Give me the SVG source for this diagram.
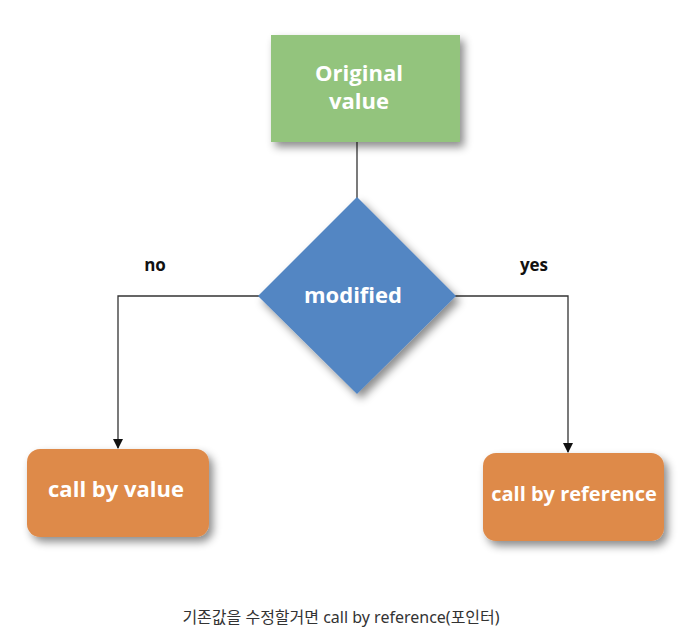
<svg xmlns="http://www.w3.org/2000/svg" width="684" height="641" viewBox="0 0 684 641">
<style>
.lbl{font-family:"Open Sans","Liberation Sans",sans-serif;font-weight:bold;fill:#fff;text-anchor:middle}
.edge{fill:none;stroke:#333;stroke-width:1.3}
.el{font-family:"Open Sans","Liberation Sans",sans-serif;font-weight:bold;fill:#111;font-size:17px;text-anchor:middle}
</style>
<defs>
<filter id="sh" x="-20%" y="-20%" width="150%" height="150%">
<feDropShadow dx="4" dy="5" stdDeviation="4" flood-color="#000" flood-opacity="0.45"/>
</filter>
<marker id="ar" markerWidth="10" markerHeight="10" refX="9" refY="5" orient="auto" markerUnits="userSpaceOnUse">
<path d="M0,0 L10,5 L0,10 Z" fill="#111"/>
</marker>
</defs>
<rect width="684" height="641" fill="#fff"/>
<g id="connectors">
<line class="edge" x1="357" y1="142" x2="357" y2="198"/>
<polyline class="edge" points="259,296 118,296 118,448" marker-end="url(#ar)"/>
<polyline class="edge" points="455,296 568,296 568,452" marker-end="url(#ar)"/>
<text class="el" x="155" y="271">no</text>
<text class="el" x="534" y="271">yes</text>
</g>
<g id="original">
<rect x="271" y="35" width="189" height="107" fill="#93C47D" filter="url(#sh)"/>
<text class="lbl" x="359" y="81" font-size="22">Original</text>
<text class="lbl" x="359" y="109" font-size="22">value</text>
</g>
<g id="modified">
<polygon points="357,197 456,296 357,394 258,296" fill="#5386C3" filter="url(#sh)"/>
<text class="lbl" x="353" y="303" font-size="22">modified</text>
</g>
<g id="byvalue">
<rect x="27" y="449" width="182" height="88" rx="13" fill="#DE8A4A" filter="url(#sh)"/>
<text class="lbl" x="116" y="497" font-size="22">call by value</text>
</g>
<g id="byref">
<rect x="483" y="453" width="181" height="88" rx="13" fill="#DE8A4A" filter="url(#sh)"/>
<text class="lbl" x="574" y="501" font-size="20">call by reference</text>
</g>
<text x="341" y="623" font-family="'Noto Sans','Noto Sans CJK KR',sans-serif" font-size="16" fill="#333" text-anchor="middle">기존값을 수정할거면 call by reference(포인터)</text>
</svg>
